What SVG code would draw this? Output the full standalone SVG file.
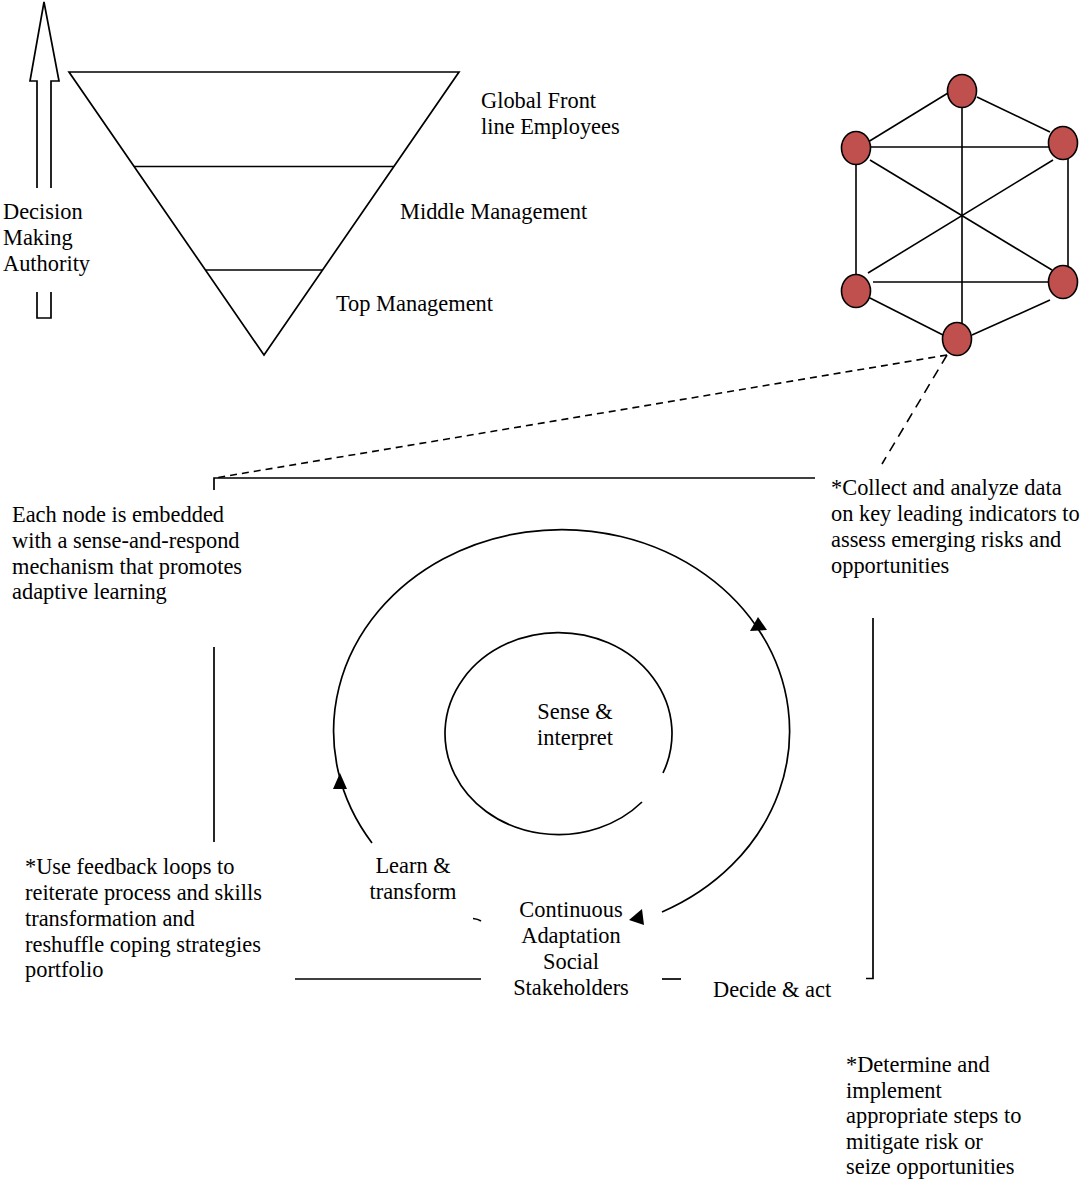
<svg xmlns="http://www.w3.org/2000/svg" width="1084" height="1184" viewBox="0 0 1084 1184">
<style>
  text { font-family: "Liberation Serif", "Times New Roman", serif; font-size: 22.4px; fill: #000; }
  .c { text-anchor: middle; }
  .ln { fill: none; stroke: #000; stroke-width: 1.7; }
  .net { fill: none; stroke: #000; stroke-width: 1.6; }
  .dot { fill: #C0504D; stroke: #000; stroke-width: 1.6; }
  .dash1 { fill: none; stroke: #000; stroke-width: 1.6; stroke-dasharray: 7 5; }
  .dash2 { fill: none; stroke: #000; stroke-width: 1.6; stroke-dasharray: 10 7; }
  .head { fill: #000; stroke: none; }
</style>
<rect width="1084" height="1184" fill="#fff"/>

<g id="authority-arrow">
  <path class="ln" d="M37,188 V81 H30 L44,2 L59,81 H51 V188"/>
  <path class="ln" d="M37,292 V318 H51 V292"/>
  <text x="3" y="219">Decision</text>
  <text x="3" y="245">Making</text>
  <text x="3" y="271">Authority</text>
</g>

<g id="hierarchy-pyramid">
  <path class="ln" d="M69,72 H459 L264,355 Z"/>
  <line class="ln" x1="134" y1="166.5" x2="394" y2="166.5"/>
  <line class="ln" x1="205" y1="270" x2="323" y2="270"/>
</g>
<g id="label-frontline">
  <text x="481" y="108">Global Front</text>
  <text x="481" y="134">line Employees</text>
</g>
<g id="label-middle"><text x="400" y="219">Middle Management</text></g>
<g id="label-top"><text x="336" y="311">Top Management</text></g>

<g id="connectors">
  <line class="net" x1="948" y1="93" x2="868" y2="142"/>
  <line class="net" x1="977" y1="97" x2="1050" y2="132"/>
  <line class="net" x1="962" y1="107" x2="962" y2="323"/>
  <line class="net" x1="866" y1="147" x2="1050" y2="147"/>
  <line class="net" x1="856" y1="164" x2="856" y2="275"/>
  <line class="net" x1="1068" y1="159" x2="1068" y2="270"/>
  <line class="net" x1="870" y1="160" x2="1052" y2="270"/>
  <line class="net" x1="868" y1="273" x2="1053" y2="160"/>
  <line class="net" x1="873" y1="282" x2="1053" y2="282"/>
  <line class="net" x1="870" y1="298" x2="943" y2="335"/>
  <line class="net" x1="972" y1="335" x2="1050" y2="300"/>
  <line class="dash1" x1="947" y1="355" x2="215" y2="478"/>
  <line class="dash2" x1="947" y1="355" x2="882" y2="464"/>
  <path class="ln" d="M214,490 V478 H815"/>
  <line class="ln" x1="214" y1="647" x2="214" y2="842"/>
  <line class="ln" x1="295" y1="979" x2="481" y2="979"/>
  <line class="ln" x1="662" y1="979" x2="681" y2="979"/>
  <path class="ln" d="M873,618 V978.5 H866"/>
</g>

<g id="node-top"><ellipse class="dot" cx="962" cy="91" rx="14.5" ry="16.5"/></g>
<g id="node-upper-left"><ellipse class="dot" cx="856" cy="148" rx="14.5" ry="16.5"/></g>
<g id="node-upper-right"><ellipse class="dot" cx="1063" cy="143" rx="14.5" ry="16.5"/></g>
<g id="node-lower-left"><ellipse class="dot" cx="856" cy="291" rx="14.5" ry="16.5"/></g>
<g id="node-lower-right"><ellipse class="dot" cx="1063" cy="282" rx="14.5" ry="16.5"/></g>
<g id="node-bottom"><ellipse class="dot" cx="957" cy="339" rx="14.5" ry="16.5"/></g>

<g id="cycle">
  <path class="ln" d="M372,843 A228,201.5 0 1 1 662,912"/>
  <path class="ln" d="M663,773 A113.5,101 0 1 0 642,802"/>
  <path class="ln" d="M473,918.5 Q478,919 481,921"/>
  <polygon class="head" points="340,773 333,789 347,789"/>
  <polygon class="head" points="758,617 750,631 767,630"/>
  <polygon class="head" points="629,920 642,909 644,925"/>
</g>

<g id="label-sense">
  <text class="c" x="575" y="719">Sense &amp;</text>
  <text class="c" x="575" y="745">interpret</text>
</g>
<g id="label-learn">
  <text class="c" x="413" y="873">Learn &amp;</text>
  <text class="c" x="413" y="899">transform</text>
</g>
<g id="label-adaptation">
  <text class="c" x="571" y="917">Continuous</text>
  <text class="c" x="571" y="943">Adaptation</text>
  <text class="c" x="571" y="969">Social</text>
  <text class="c" x="571" y="995">Stakeholders</text>
</g>
<g id="label-decide"><text x="713" y="997">Decide &amp; act</text></g>

<g id="note-embedded">
  <text x="12" y="522">Each node is embedded</text>
  <text x="12" y="548">with a sense-and-respond</text>
  <text x="12" y="573.5">mechanism that promotes</text>
  <text x="12" y="599">adaptive learning</text>
</g>
<g id="note-collect">
  <text x="831" y="495">*Collect and analyze data</text>
  <text x="831" y="521">on key leading indicators to</text>
  <text x="831" y="547">assess emerging risks and</text>
  <text x="831" y="573">opportunities</text>
</g>
<g id="note-feedback">
  <text x="25" y="873.5">*Use feedback loops to</text>
  <text x="25" y="899.5">reiterate process and skills</text>
  <text x="25" y="925.5">transformation and</text>
  <text x="25" y="951.5">reshuffle coping strategies</text>
  <text x="25" y="977">portfolio</text>
</g>
<g id="note-determine">
  <text x="846" y="1072">*Determine and</text>
  <text x="846" y="1097.5">implement</text>
  <text x="846" y="1123">appropriate steps to</text>
  <text x="846" y="1148.5">mitigate risk or</text>
  <text x="846" y="1174">seize opportunities</text>
</g>
</svg>
